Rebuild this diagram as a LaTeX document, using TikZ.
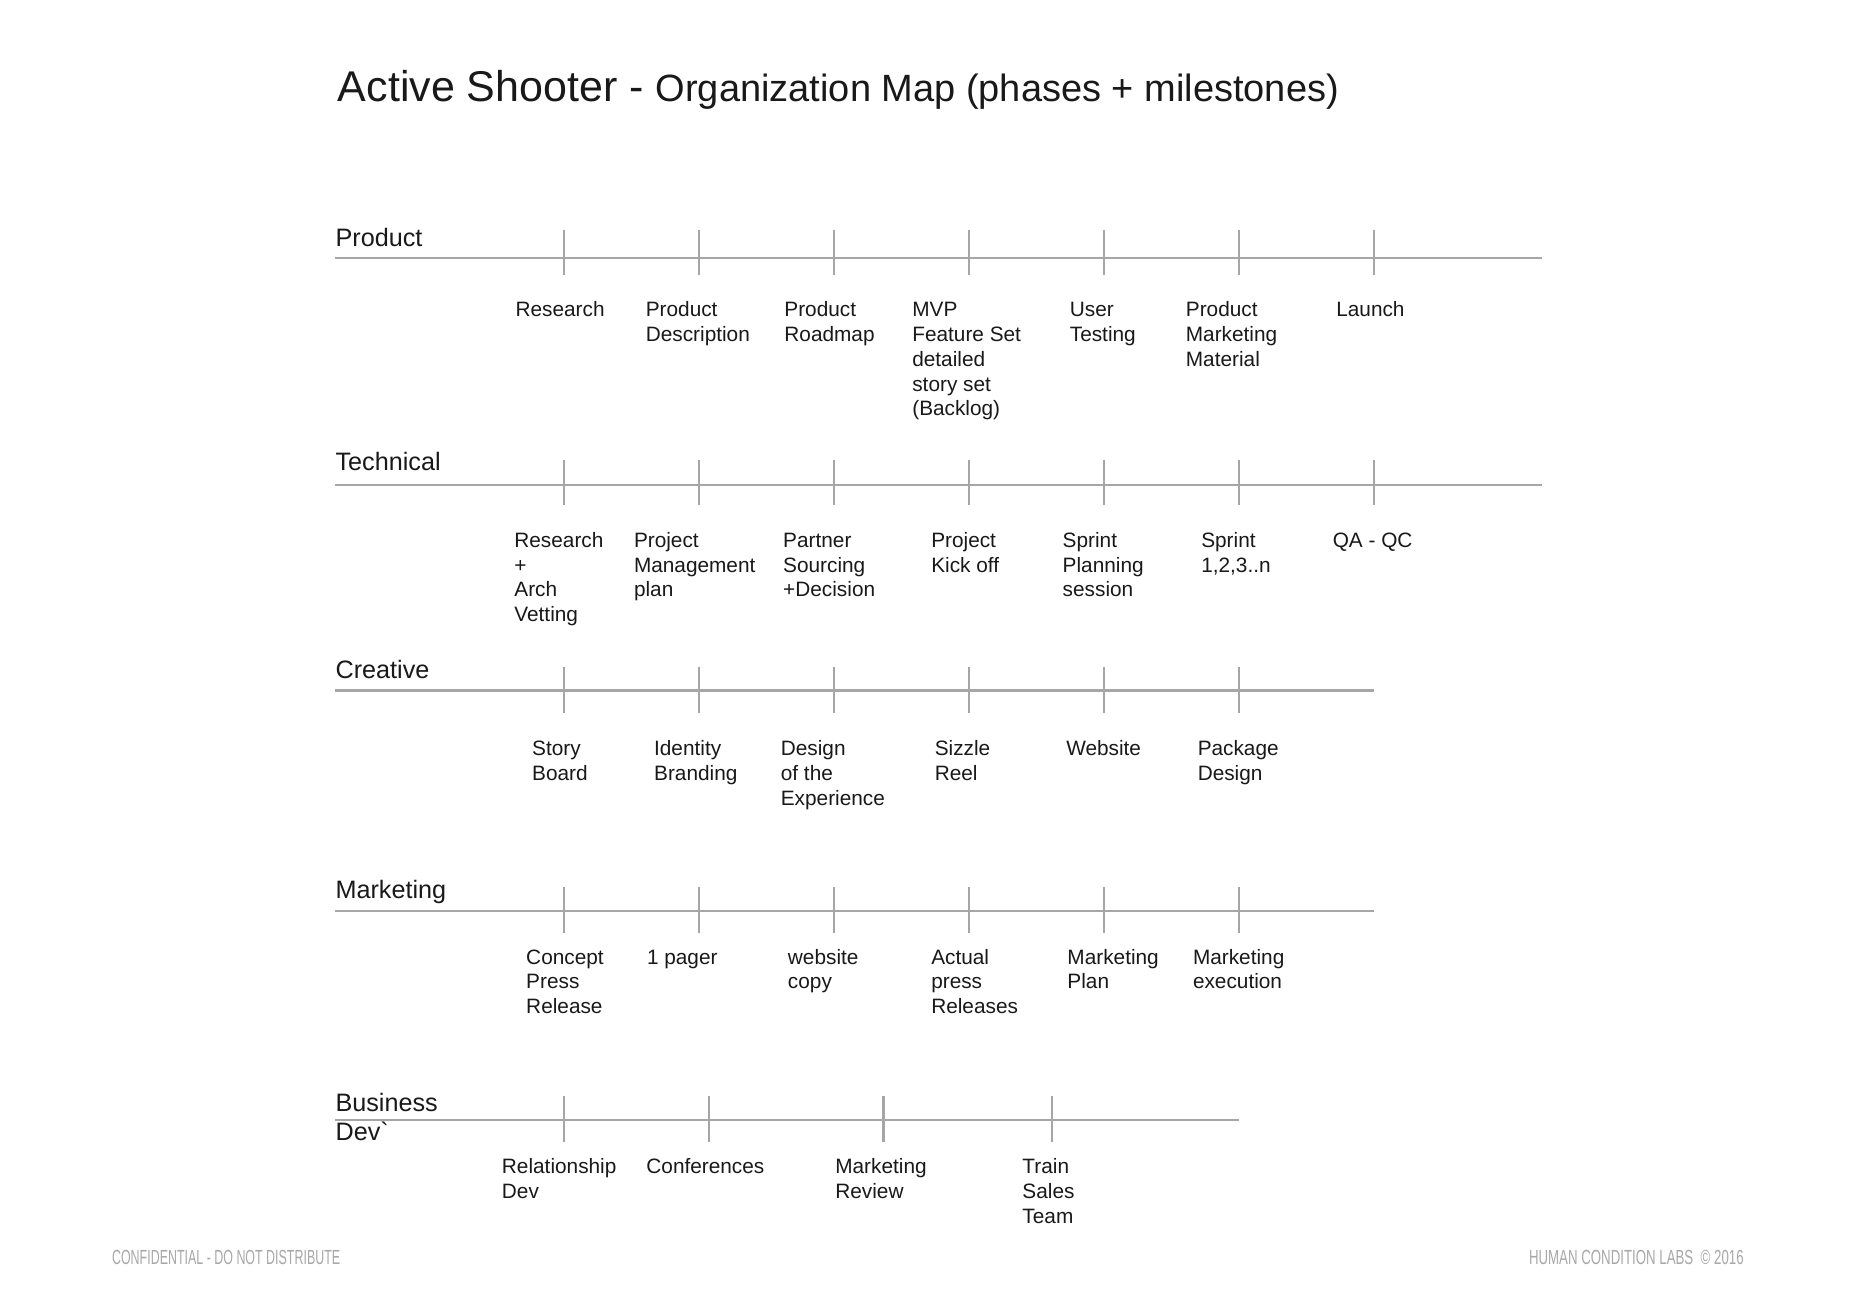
\documentclass[tikz,border=0pt]{standalone}
\usepackage{fontspec}
\usepackage{graphicx}
\setmainfont{Liberation Sans}
\usetikzlibrary{positioning}

\definecolor{rule}{RGB}{165,165,170}
\definecolor{ink}{RGB}{25,25,25}
\definecolor{footgray}{RGB}{168,168,168}

\newcommand{\mlines}[1]{\begin{tabular}[t]{@{}l@{}}#1\end{tabular}}

\tikzset{
  axis/.style={draw=rule, line width=1.1pt},
  tick/.style={draw=rule, line width=1.1pt},
  phase/.style={anchor=base west, inner sep=0pt, text=ink, font=\fontsize{12.6}{14.4}\selectfont},
  mile/.style={anchor=base west, inner sep=0pt, text=ink, font=\fontsize{10.4}{12.4}\selectfont},
  foot/.style={anchor=base west, inner sep=0pt, text=footgray, font=\fontsize{10.2}{12}\selectfont}
}

\begin{document}
\begin{tikzpicture}[x=0.5922pt, y=-0.5922pt]
\fill[white] (0,0) rectangle (1568,1106);
\useasboundingbox (0,0) rectangle (1568,1106);

\node[anchor=base west, inner sep=0pt, text=ink] (title) at (285,86) {{\fontsize{21.5}{26}\selectfont Active Shooter - }{\fontsize{19}{23}\selectfont Organization Map (phases + milestones)}};

% phase names
\node[phase] (prod) at (283,208.5) {Product};
\node[phase] (tech) at (283,397.5) {Technical};
\node[phase] (crea) at (283,573) {Creative};
\node[phase] (mark) at (283,758.5) {Marketing};
\node[phase] (biz) at (283,938.7) {\mlines{Business\\Dev\textasciigrave}};

% timelines
\coordinate (prodL) at (283,218);
\coordinate (prodR) at (1302,218);
\coordinate (techL) at (283,409.5);
\coordinate (techR) at (1302,409.5);
\coordinate (creaL) at (283,583);
\coordinate (creaR) at (1160.5,583);
\coordinate (markL) at (283,769);
\coordinate (markR) at (1160.5,769);
\coordinate (bizL) at (283,945.7);
\coordinate (bizR) at (1046,945.7);
\draw[axis] (prodL) -- (prodR);
\draw[axis] (techL) -- (techR);
\draw[axis] (creaL) -- (creaR);
\draw[axis] (markL) -- (markR);
\draw[axis] (bizL) -- (bizR);

\draw[tick] (476,194) -- (476,232) (590,194) -- (590,232) (704,194) -- (704,232) (818,194) -- (818,232)
  (932,194) -- (932,232) (1046,194) -- (1046,232) (1160,194) -- (1160,232);
\draw[tick] (476,388) -- (476,426) (590,388) -- (590,426) (704,388) -- (704,426) (818,388) -- (818,426)
  (932,388) -- (932,426) (1046,388) -- (1046,426) (1160,388) -- (1160,426);
\draw[tick] (476,563.5) -- (476,602) (590,563.5) -- (590,602) (704,563.5) -- (704,602) (818,563.5) -- (818,602)
  (932,563.5) -- (932,602) (1046,563.5) -- (1046,602);
\draw[tick] (476,749) -- (476,788) (590,749) -- (590,788) (704,749) -- (704,788) (818,749) -- (818,788)
  (932,749) -- (932,788) (1046,749) -- (1046,788);
\draw[tick] (476,925.4) -- (476,964.3) (598.4,925.4) -- (598.4,964.3) (746,925.4) -- (746,964.3) (888,925.4) -- (888,964.3);

% milestones
\node[mile] (p1) at (435,267.4) {Research};
\node[mile] (p2) at (545,267.4) {\mlines{Product\\Description}};
\node[mile] (p3) at (662,267.4) {\mlines{Product\\Roadmap}};
\node[mile] (p4) at (770,267.4) {\mlines{MVP\\Feature Set\\detailed\\story set\\(Backlog)}};
\node[mile] (p5) at (903,267.4) {\mlines{User\\Testing}};
\node[mile] (p6) at (1001,267.4) {\mlines{Product\\Marketing\\Material}};
\node[mile] (p7) at (1128,267.4) {Launch};

\node[mile] (t1) at (434,462.2) {\mlines{Research\\+\\Arch\\Vetting}};
\node[mile] (t2) at (535,462.2) {\mlines{Project\\Management\\plan}};
\node[mile] (t3) at (661,462.2) {\mlines{Partner\\Sourcing\\+Decision}};
\node[mile] (t4) at (786,462.2) {\mlines{Project\\Kick off}};
\node[mile] (t5) at (897,462.2) {\mlines{Sprint\\Planning\\session}};
\node[mile] (t6) at (1014,462.2) {\mlines{Sprint\\1,2,3..n}};
\node[mile] (t7) at (1125,462.2) {QA - QC};

\node[mile] (c1) at (449,638) {\mlines{Story\\Board}};
\node[mile] (c2) at (552,638) {\mlines{Identity\\Branding}};
\node[mile] (c3) at (659,638) {\mlines{Design\\of the\\Experience}};
\node[mile] (c4) at (789,638) {\mlines{Sizzle\\Reel}};
\node[mile] (c5) at (900,638) {Website};
\node[mile] (c6) at (1011,638) {\mlines{Package\\Design}};

\node[mile] (m1) at (444,814) {\mlines{Concept\\Press\\Release}};
\node[mile] (m2) at (546,814) {1 pager};
\node[mile] (m3) at (665,814) {\mlines{website\\copy}};
\node[mile] (m4) at (786,814) {\mlines{Actual\\press\\Releases}};
\node[mile] (m5) at (901,814) {\mlines{Marketing\\Plan}};
\node[mile] (m6) at (1007,814) {\mlines{Marketing\\execution}};

\node[mile] (b1) at (423.5,990.8) {\mlines{Relationship\\Dev}};
\node[mile] (b2) at (545.5,990.8) {Conferences};
\node[mile] (b3) at (705,990.8) {\mlines{Marketing\\Review}};
\node[mile] (b4) at (863,990.8) {\mlines{Train\\Sales\\Team}};

\node[foot] (conf) at (94.3,1067.3) {\scalebox{0.61}[1]{CONFIDENTIAL - DO NOT DISTRIBUTE}};
\node[foot, anchor=base east] (lab) at (1472.6,1067.3) {\scalebox{0.65}[1]{HUMAN CONDITION LABS \ © 2016}};

\end{tikzpicture}
\end{document}
